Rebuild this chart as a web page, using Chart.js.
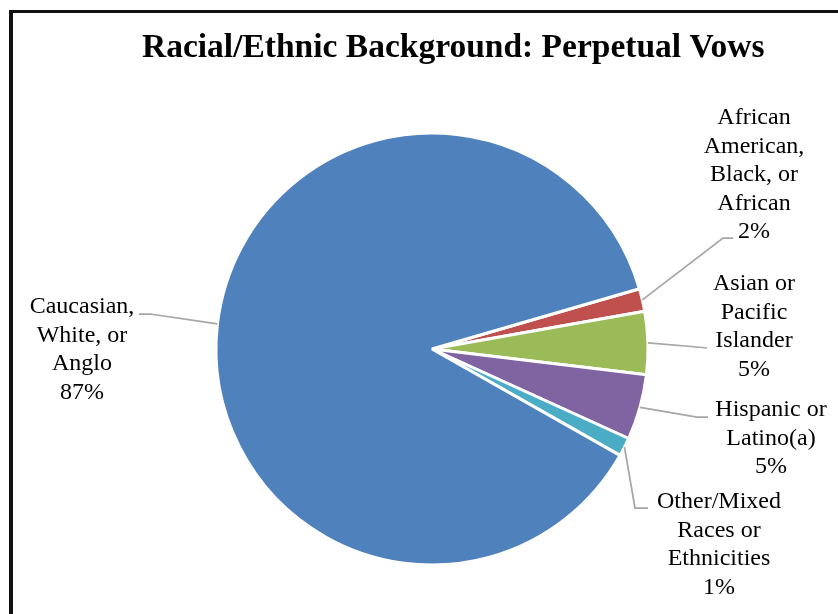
<!DOCTYPE html>
<html><head><meta charset="utf-8">
<script src="https://cdn.jsdelivr.net/npm/chart.js@4/dist/chart.umd.min.js"></script>
<style>
html,body{margin:0;padding:0;background:#fff;overflow:hidden;width:838px;height:614px;}
#frame{position:absolute;left:9px;top:10px;border-left:4px solid #111;border-top:3px solid #111;width:880px;height:640px;background:#fff;}
canvas{display:block;}
</style></head><body>
<div id="frame"><canvas id="c" width="880" height="640"></canvas></div>
<script>
const TITLE = 'Racial/Ethnic Background: Perpetual Vows';
const categories = [
  'African\nAmerican,\nBlack, or\nAfrican',
  'Asian or\nPacific\nIslander',
  'Hispanic or\nLatino(a)',
  'Other/Mixed\nRaces or\nEthnicities',
  'Caucasian,\nWhite, or\nAnglo'
];
const shares = [1.7, 4.7, 4.9, 1.4, 87.3];
const colors = ['#C0504D', '#9BBB59', '#8064A2', '#4BACC6', '#4F81BD'];

// label placement (pixels relative to pie centre): block centre x, first line y, leader path
const labelLayout = [
  {dx: 322, dy: -231, path: [[291, -111], [301, -111]]},
  {dx: 322, dy: -65,  path: [[265, -2], [275, -1]]},
  {dx: 339, dy: 61,   path: [[265, 68], [276, 68]]},
  {dx: 287, dy: 153,  path: [[203, 159], [216, 159]]},
  {dx: -350, dy: -42, path: [[-282, -35], [-293, -35]]}
];
const LINE_H = 28.5;

// Title drawn on the canvas (the original chart box is wider than the visible crop,
// so the title is not centred over the pie)
const titlePlugin = {
  id: 'offsetTitle',
  afterDraw(chart) {
    const ctx = chart.ctx;
    ctx.save();
    ctx.fillStyle = '#000';
    ctx.font = 'bold 33.5px "Liberation Serif"';
    ctx.textAlign = 'left';
    ctx.textBaseline = 'alphabetic';
    ctx.fillText(TITLE, 129, 44);
    ctx.restore();
  }
};

const outsideLabels = {
  id: 'outsideLabels',
  afterDatasetsDraw(chart) {
    const ctx = chart.ctx;
    const meta = chart.getDatasetMeta(0);
    const vals = chart.data.datasets[0].data;
    const total = vals.reduce((a, b) => a + b, 0);
    meta.data.forEach((arc, i) => {
      const p = arc.getProps(['x', 'y', 'startAngle', 'endAngle', 'outerRadius'], true);
      const mid = (p.startAngle + p.endAngle) / 2;
      const sx = p.x + Math.cos(mid) * p.outerRadius;
      const sy = p.y + Math.sin(mid) * p.outerRadius;
      const L = labelLayout[i];
      ctx.save();
      ctx.strokeStyle = '#A6A6A6';
      ctx.lineWidth = 1.75;
      ctx.beginPath();
      ctx.moveTo(sx, sy);
      L.path.forEach(([dx, dy]) => ctx.lineTo(p.x + dx, p.y + dy));
      ctx.stroke();
      const lines = String(chart.data.labels[i]).split('\n')
        .concat(Math.round(vals[i] / total * 100) + '%');
      ctx.fillStyle = '#000';
      ctx.font = '24px "Liberation Serif"';
      ctx.textAlign = 'center';
      ctx.textBaseline = 'middle';
      lines.forEach((t, k) => ctx.fillText(t, p.x + L.dx, p.y + L.dy + k * LINE_H));
      ctx.restore();
    });
  }
};

new Chart(document.getElementById('c'), {
  type: 'pie',
  data: {
    labels: categories,
    datasets: [{
      data: shares,
      backgroundColor: colors,
      borderColor: '#ffffff',
      borderWidth: 3
    }]
  },
  options: {
    responsive: false,
    animation: false,
    devicePixelRatio: 1,
    rotation: 73.8,
    radius: 216,
    layout: {padding: {left: 129, right: 171, top: 60, bottom: 28}},
    plugins: {
      legend: {display: false},
      tooltip: {enabled: false},
      title: {display: false}
    }
  },
  plugins: [outsideLabels, titlePlugin]
});
</script>
</body></html>
